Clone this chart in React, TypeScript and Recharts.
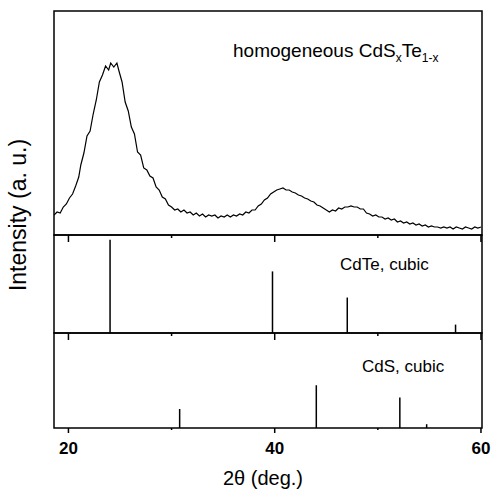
import { Bar, ComposedChart, Line, ReferenceArea, XAxis, YAxis } from "recharts";

// shared x range (2θ, deg.)
const X_MIN = 18.6;
const X_MAX = 60.1;
const X_TICKS = [20, 30, 40, 50, 60];
const LABELED_TICKS = [20, 40, 60];

// measured pattern, homogeneous CdSxTe1-x (arbitrary units)
const twoTheta = [
  18.6, 18.9, 19.2, 19.5, 19.8, 20.1, 20.4, 20.7, 21.0, 21.2, 21.5, 21.8, 22.1, 22.4, 22.7, 23.0,
  23.3, 23.6, 23.9, 24.1, 24.4, 24.7, 24.9, 25.2, 25.5, 25.8, 26.1, 26.4, 26.7, 27.0, 27.3, 27.6,
  27.9, 28.2, 28.5, 28.8, 29.1, 29.4, 29.7, 30.0, 30.3, 30.6, 30.9, 31.2, 31.5, 31.8, 32.1, 32.4,
  32.7, 33.0, 33.3, 33.6, 33.9, 34.2, 34.5, 34.8, 35.1, 35.4, 35.7, 36.0, 36.3, 36.6, 36.9, 37.2,
  37.5, 37.8, 38.1, 38.4, 38.7, 39.0, 39.3, 39.6, 39.9, 40.2, 40.5, 40.8, 41.1, 41.4, 41.7, 42.0,
  42.3, 42.6, 42.9, 43.2, 43.5, 43.8, 44.1, 44.4, 44.7, 45.0, 45.3, 45.6, 45.9, 46.2, 46.5, 46.8,
  47.1, 47.4, 47.7, 48.0, 48.3, 48.6, 48.9, 49.2, 49.5, 49.8, 50.1, 50.4, 50.7, 51.0, 51.3, 51.6,
  51.9, 52.2, 52.5, 52.8, 53.1, 53.4, 53.7, 54.0, 54.3, 54.6, 54.9, 55.2, 55.5, 55.8, 56.1, 56.4,
  56.7, 57.0, 57.3, 57.6, 57.9, 58.2, 58.5, 58.8, 59.1, 59.4, 59.7, 60.0,
];
const intensity = [
  20, 23, 22, 28, 31, 37, 41, 49, 58, 70, 82, 99, 104, 121, 135, 153,
  160, 169, 165, 172, 168, 172, 164, 153, 133, 124, 108, 101, 83, 80, 67, 65,
  59, 57, 48, 45, 38, 36, 30, 28, 25, 26, 23, 25, 22, 23, 20, 22,
  19, 21, 18, 20, 19, 20, 17, 19, 18, 20, 18, 20, 19, 21, 20, 23,
  22, 25, 25, 29, 31, 35, 37, 41, 43, 45, 46, 47, 45, 45, 43, 42,
  40, 39, 37, 36, 34, 33, 30, 29, 27, 25, 23, 25, 24, 27, 26, 28,
  28, 29, 28, 28, 26, 26, 22, 21, 19, 20, 18, 18, 16, 17, 15, 16,
  13, 14, 12, 13, 11, 12, 10, 11, 9, 10, 8, 9, 8, 8, 7, 8,
  7, 8, 6, 8, 7, 6, 8, 7, 6, 8, 7, 8,
];

// reference lines (relative intensity)
const cdteAngles = [24.0, 39.75, 47.0, 57.5];
const cdteIntensity = [100, 66, 38, 9];
const cdsAngles = [30.75, 44.0, 52.1, 54.7];
const cdsIntensity = [20, 45, 32, 4];

const xrd = twoTheta.map((x, i) => ({ x, y: intensity[i] }));
const cdte = cdteAngles.map((x, i) => ({ x, y: cdteIntensity[i] }));
const cds = cdsAngles.map((x, i) => ({ x, y: cdsIntensity[i] }));

const FONT = '"Liberation Sans", Arial, Helvetica, sans-serif';
const W = 492;
const MARGIN_X = { left: 54, right: 10 };

// ticks hanging down into the panel below
function InnerTick(props: any) {
  const { x, y, payload } = props;
  const len = payload.value % 20 === 0 ? 7 : 3;
  return <line x1={x} x2={x} y1={y} y2={y + len} stroke="#000" strokeWidth={1.5} />;
}

function BottomTick(props: any) {
  const { x, y, payload } = props;
  const labeled = LABELED_TICKS.includes(payload.value);
  return (
    <g>
      <line x1={x} x2={x} y1={y} y2={y + (labeled ? 5 : 2)} stroke="#000" strokeWidth={1.5} />
      {labeled && (
        <text
          x={x}
          y={y + 26}
          textAnchor="middle"
          fontFamily={FONT}
          fontWeight="bold"
          fontSize={17}
          fill="#000"
        >
          {payload.value}
        </text>
      )}
    </g>
  );
}

function xAxis(tick: any) {
  return (
    <XAxis
      dataKey="x"
      type="number"
      domain={[X_MIN, X_MAX]}
      allowDataOverflow
      ticks={X_TICKS}
      interval={0}
      height={1}
      tickSize={0}
      tickMargin={0}
      tickLine={false}
      axisLine={false}
      tick={tick}
    />
  );
}

function frame(yMax: number) {
  return (
    <ReferenceArea
      x1={X_MIN}
      x2={X_MAX}
      y1={0}
      y2={yMax}
      fill="none"
      stroke="#000"
      strokeWidth={1.5}
      ifOverflow="visible"
    />
  );
}

export default function App() {
  return (
    <div
      style={{
        position: "absolute",
        left: 0,
        top: 0,
        width: W,
        height: 489,
        background: "#fff",
        fontFamily: FONT,
        color: "#000",
      }}
    >
      <div style={{ position: "absolute", left: 0, top: 0 }}>
        <ComposedChart width={W} height={250} data={xrd} margin={{ top: 11, bottom: 14, ...MARGIN_X }}>
          {xAxis(<InnerTick />)}
          <YAxis hide domain={[0, 224]} allowDataOverflow />
          <Line
            dataKey="y"
            type="linear"
            stroke="#000"
            strokeWidth={1.2}
            dot={false}
            isAnimationActive={false}
          />
          {frame(224)}
        </ComposedChart>
      </div>

      <div style={{ position: "absolute", left: 0, top: 220 }}>
        <ComposedChart width={W} height={128} data={cdte} margin={{ top: 15, bottom: 14, ...MARGIN_X }}>
          {xAxis(<InnerTick />)}
          <YAxis hide domain={[0, 105]} allowDataOverflow />
          <Bar dataKey="y" fill="#000" barSize={1.5} isAnimationActive={false} />
          {frame(105)}
        </ComposedChart>
      </div>

      <div style={{ position: "absolute", left: 0, top: 318 }}>
        <ComposedChart width={W} height={171} data={cds} margin={{ top: 15, bottom: 60, ...MARGIN_X }}>
          {xAxis(<BottomTick />)}
          <YAxis hide domain={[0, 100]} allowDataOverflow />
          <Bar dataKey="y" fill="#000" barSize={1.5} isAnimationActive={false} />
          {frame(100)}
        </ComposedChart>
      </div>

      <div style={{ position: "absolute", left: 233, top: 40, fontSize: 19, whiteSpace: "nowrap" }}>
        homogeneous CdS<sub style={{ fontSize: 12 }}>x</sub>Te<sub style={{ fontSize: 12 }}>1-x</sub>
      </div>
      <div style={{ position: "absolute", left: 340, top: 255, fontSize: 17, whiteSpace: "nowrap" }}>
        CdTe, cubic
      </div>
      <div style={{ position: "absolute", left: 362, top: 357, fontSize: 17, whiteSpace: "nowrap" }}>
        CdS, cubic
      </div>

      <div
        style={{
          position: "absolute",
          left: 18,
          top: 215,
          fontSize: 23,
          whiteSpace: "nowrap",
          transform: "translate(-50%, -50%) rotate(-90deg)",
        }}
      >
        Intensity (a. u.)
      </div>
      <div
        style={{
          position: "absolute",
          left: 263,
          top: 478,
          fontSize: 20,
          whiteSpace: "nowrap",
          transform: "translate(-50%, -50%)",
        }}
      >
        2θ (deg.)
      </div>
    </div>
  );
}
